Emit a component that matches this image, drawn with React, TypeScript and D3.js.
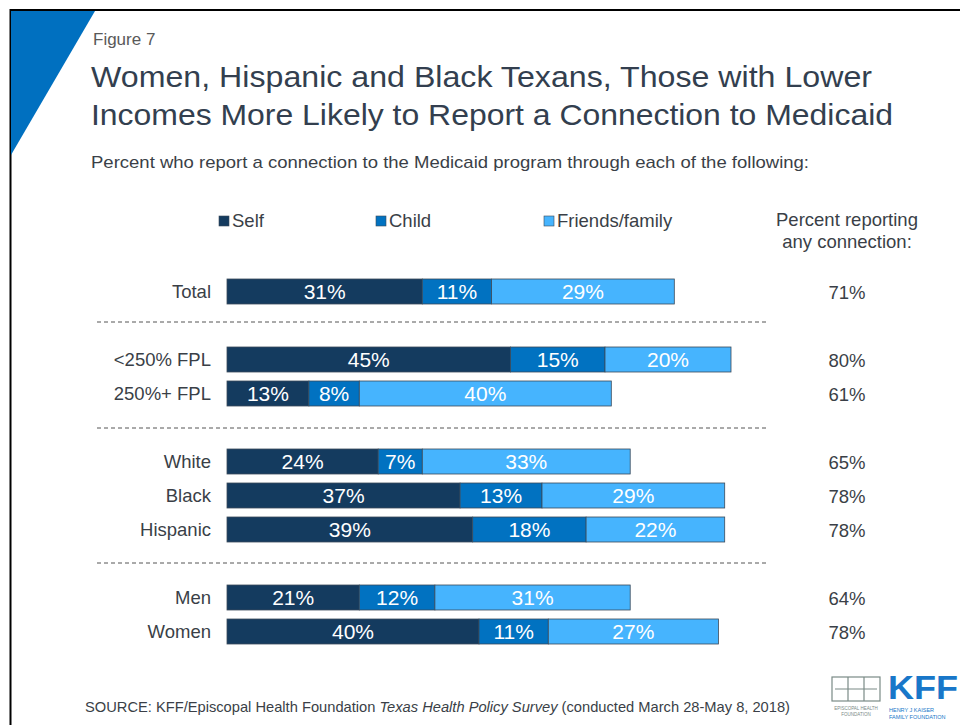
import React from "react";
import * as d3 from "d3";

const categories = ["Total", "<250% FPL", "250%+ FPL", "White", "Black", "Hispanic", "Men", "Women"];
const groupIndex = [0, 1, 1, 2, 2, 2, 3, 3];
const seriesNames = ["Self", "Child", "Friends/family"];
const selfValues = [31, 45, 13, 24, 37, 39, 21, 40];
const childValues = [11, 15, 8, 7, 13, 18, 12, 11];
const friendsValues = [29, 20, 40, 33, 29, 22, 31, 27];
const anyConnection = [71, 80, 61, 65, 78, 78, 64, 78];

const colors = ["#143B5F", "#0172C1", "#46B4FE"];
const FONT = "'Liberation Sans', Arial, Helvetica, sans-serif";
const TEXT = "#3A3F47";

export default function App() {
  const x = d3.scaleLinear().domain([0, 100]).range([227, 857]);
  const rowY = (i: number) => {
    const base = 291.5;
    const step = 34;
    const gap = 34;
    return base + i * step + groupIndex[i] * gap;
  };
  const barH = 25;
  const stack = d3.stack<any>().keys(seriesNames)(
    categories.map((c, i) => ({
      cat: c,
      Self: selfValues[i],
      Child: childValues[i],
      "Friends/family": friendsValues[i],
    }))
  );
  const dashY = [322, 428, 563];
  const legendX = [219, 376, 544];

  return (
    <svg
      width={960}
      height={725}
      style={{ position: "absolute", left: 0, top: 0, background: "#fff" }}
      fontFamily={FONT}
    >
      <rect x={0} y={0} width={960} height={725} fill="#fff" />
      <line x1={10} y1={10} x2={960} y2={10} stroke="#000" strokeWidth={2} />
      <line x1={10.5} y1={9} x2={10.5} y2={725} stroke="#000" strokeWidth={2} />
      <polygon points="11,11 95,11 11,155" fill="#0070C0" />

      <text x={93} y={45} fontSize={17} fill="#595959">Figure 7</text>
      <text x={91} y={87} fontSize={30} fill="#333F4F" textLength={781} lengthAdjust="spacingAndGlyphs">
        Women, Hispanic and Black Texans, Those with Lower
      </text>
      <text x={91} y={125} fontSize={30} fill="#333F4F" textLength={802} lengthAdjust="spacingAndGlyphs">
        Incomes More Likely to Report a Connection to Medicaid
      </text>
      <text x={91} y={168} fontSize={17} fill={TEXT} textLength={718} lengthAdjust="spacingAndGlyphs">
        Percent who report a connection to the Medicaid program through each of the following:
      </text>

      {seriesNames.map((s, k) => (
        <g key={s}>
          <rect x={legendX[k]} y={216} width={10} height={10} fill={colors[k]} stroke="#3a4a5a" strokeWidth={0.6} />
          <text x={legendX[k] + 13} y={227} fontSize={18.5} fill={TEXT}>{s}</text>
        </g>
      ))}
      <text x={847} y={226} fontSize={18.5} fill={TEXT} textAnchor="middle">Percent reporting</text>
      <text x={847} y={248} fontSize={18.5} fill={TEXT} textAnchor="middle">any connection:</text>

      {dashY.map((y) => (
        <line key={y} x1={97} x2={767} y1={y} y2={y} stroke="#555" strokeWidth={1} strokeDasharray="4,3" />
      ))}

      {stack.map((layer, k) =>
        layer.map((d, i) => {
          const x0 = x(d[0]);
          const x1 = x(d[1]);
          const cy = rowY(i);
          return (
            <g key={`${k}-${i}`}>
              <rect
                x={x0}
                y={cy - barH / 2}
                width={x1 - x0}
                height={barH}
                fill={colors[k]}
                stroke="#3b4a5a"
                strokeWidth={0.8}
              />
              <text x={(x0 + x1) / 2} y={cy + 7.5} fontSize={21} fill="#fff" textAnchor="middle">
                {`${d[1] - d[0]}%`}
              </text>
            </g>
          );
        })
      )}

      {categories.map((c, i) => (
        <text key={c} x={211} y={rowY(i) + 6.5} fontSize={18.5} fill={TEXT} textAnchor="end">
          {c}
        </text>
      ))}

      {anyConnection.map((v, i) => (
        <text key={i} x={847} y={rowY(i) + 7} fontSize={18.5} fill={TEXT} textAnchor="middle">
          {`${v}%`}
        </text>
      ))}

      <text x={85} y={712} fontSize={15} fill={TEXT} textLength={705} lengthAdjust="spacingAndGlyphs">
        SOURCE: KFF/Episcopal Health Foundation <tspan fontStyle="italic">Texas Health Policy Survey</tspan> (conducted March 28-May 8, 2018)
      </text>

      <g>
        <rect x={832} y={677} width={48} height={24} fill="none" stroke="#7a8a86" strokeWidth={1.2} />
        <line x1={848} y1={677} x2={848} y2={701} stroke="#7a8a86" strokeWidth={1.2} />
        <line x1={864} y1={677} x2={864} y2={701} stroke="#7a8a86" strokeWidth={1.2} />
        <line x1={835} y1={689} x2={877} y2={689} stroke="#7a8a86" strokeWidth={1.2} />
        <text x={856} y={710} fontSize={4.5} fill="#7a8a86" textAnchor="middle">EPISCOPAL HEALTH</text>
        <text x={856} y={716} fontSize={4.5} fill="#7a8a86" textAnchor="middle">FOUNDATION</text>
        <text x={888} y={699} fontSize={33} fontWeight="bold" fill="#1877C9" textLength={70} lengthAdjust="spacingAndGlyphs">KFF</text>
        <text x={889} y={712} fontSize={5.5} fill="#1877C9">HENRY J KAISER</text>
        <text x={889} y={719} fontSize={5.5} fill="#1877C9">FAMILY FOUNDATION</text>
      </g>
    </svg>
  );
}
